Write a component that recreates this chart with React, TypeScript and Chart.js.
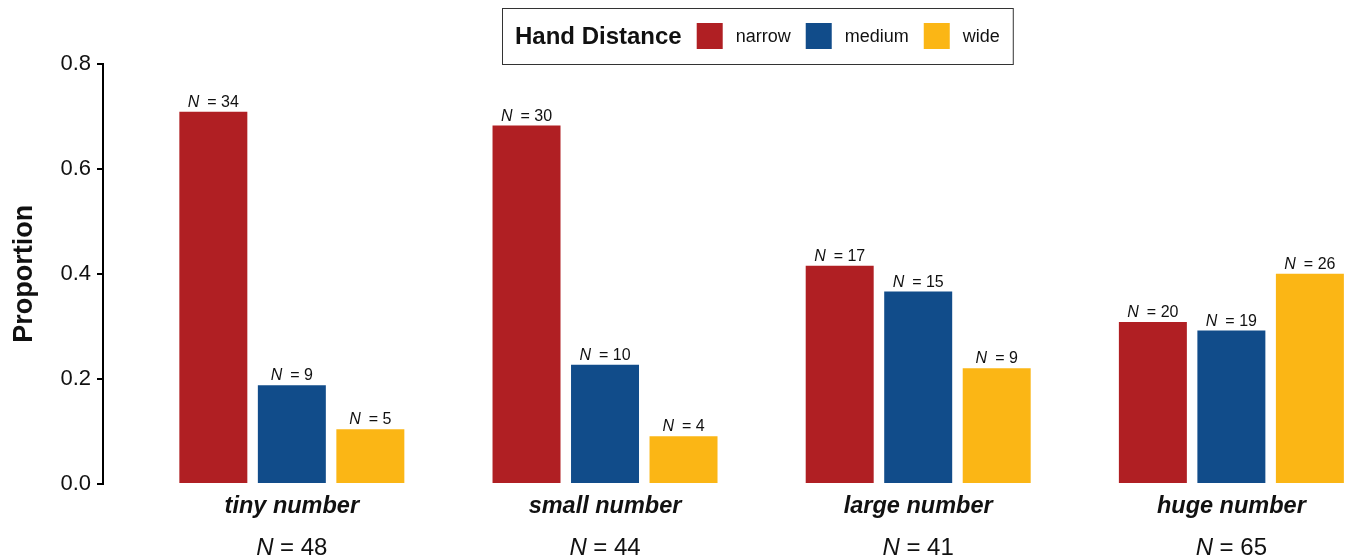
import React, { useEffect, useRef } from "react";
import { Chart, registerables } from "chart.js";

Chart.register(...registerables);

const categories = ["tiny number", "small number", "large number", "huge number"];
const groupTotals = [48, 44, 41, 65];
const seriesNames = ["narrow", "medium", "wide"];
const narrowCounts = [34, 30, 17, 20];
const mediumCounts = [9, 10, 15, 19];
const wideCounts = [5, 4, 9, 26];
const narrowProp = [0.708, 0.682, 0.415, 0.308];
const mediumProp = [0.188, 0.227, 0.366, 0.292];
const wideProp = [0.104, 0.091, 0.22, 0.4];
const yTickValues = [0, 0.2, 0.4, 0.6, 0.8];
const colors = ["#B01F23", "#114C8A", "#FBB615"];
const legendTitle = "Hand Distance";
const yTitle = "Proportion";

const FONT = '"Liberation Sans", Arial, Helvetica, sans-serif';
const TEXT = "#111111";

function drawNText(ctx: CanvasRenderingContext2D, cx: number, baseline: number, size: number, rest: string, gapN: number) {
  ctx.font = `italic ${size}px ${FONT}`;
  const wN = ctx.measureText("N").width;
  ctx.font = `${size}px ${FONT}`;
  const wR = ctx.measureText(rest).width;
  const total = wN + gapN + wR;
  let x = cx - total / 2;
  ctx.textAlign = "left";
  ctx.textBaseline = "alphabetic";
  ctx.fillStyle = TEXT;
  ctx.font = `italic ${size}px ${FONT}`;
  ctx.fillText("N", x, baseline);
  x += wN + gapN;
  ctx.font = `${size}px ${FONT}`;
  ctx.fillText(rest, x, baseline);
}

const countsBySeries = [narrowCounts, mediumCounts, wideCounts];

const annotatePlugin = {
  id: "annotate",
  afterDatasetsDraw(chart: any) {
    const ctx: CanvasRenderingContext2D = chart.ctx;
    ctx.save();
    // bar labels
    chart.data.datasets.forEach((ds: any, di: number) => {
      const meta = chart.getDatasetMeta(di);
      meta.data.forEach((el: any, i: number) => {
        drawNText(ctx, el.x, el.y - 5, 16, "= " + countsBySeries[di][i], 8);
      });
    });
    // category labels
    const xs = chart.scales.x;
    const bottom = chart.chartArea.bottom;
    categories.forEach((c, i) => {
      const cx = xs.getPixelForValue(i);
      ctx.font = `italic bold 23.5px ${FONT}`;
      ctx.fillStyle = TEXT;
      ctx.textAlign = "center";
      ctx.textBaseline = "alphabetic";
      ctx.fillText(c, cx, bottom + 29);
      drawNText(ctx, cx, bottom + 71, 24, "= " + groupTotals[i], 6.5);
    });
    // legend
    const boxLeft = 502;
    const boxTop = 8;
    const boxH = 56;
    const midY = boxTop + boxH / 2;
    const pad = 13;
    const sq = 26;
    let x = boxLeft + pad;
    ctx.font = `bold 24px ${FONT}`;
    const tW = ctx.measureText(legendTitle).width;
    const items: { w: number }[] = [];
    ctx.font = `18px ${FONT}`;
    chart.data.datasets.forEach((ds: any) => items.push({ w: ctx.measureText(ds.label).width }));
    let total = pad + tW;
    items.forEach((it) => (total += 15 + sq + 13 + it.w));
    total += pad;
    ctx.fillStyle = "#ffffff";
    ctx.fillRect(boxLeft, boxTop, total, boxH);
    ctx.strokeStyle = "#333333";
    ctx.lineWidth = 1;
    ctx.strokeRect(boxLeft + 0.5, boxTop + 0.5, total, boxH);
    ctx.fillStyle = TEXT;
    ctx.textAlign = "left";
    ctx.textBaseline = "middle";
    ctx.font = `bold 24px ${FONT}`;
    ctx.fillText(legendTitle, x, midY + 1);
    x += tW;
    chart.data.datasets.forEach((ds: any, i: number) => {
      x += 15;
      ctx.fillStyle = ds.backgroundColor;
      ctx.fillRect(x, midY - sq / 2, sq, sq);
      x += sq + 13;
      ctx.fillStyle = TEXT;
      ctx.font = `18px ${FONT}`;
      ctx.fillText(ds.label, x, midY + 1);
      x += items[i].w;
    });
    ctx.restore();
  },
};

export default function App() {
  const ref = useRef<HTMLCanvasElement>(null);
  useEffect(() => {
    if (!ref.current) return;
    const propsBySeries = [narrowProp, mediumProp, wideProp];
    const chart = new Chart(ref.current, {
      type: "bar",
      data: {
        datasets: seriesNames.map((name, si) => ({
          label: name,
          data: propsBySeries[si].map((v, i) => ({ x: i, y: v })),
          backgroundColor: colors[si],
          borderWidth: 0,
          categoryPercentage: 0.752,
          barPercentage: 0.866,
        })),
      },
      options: {
        animation: false,
        responsive: true,
        maintainAspectRatio: false,
        layout: { padding: { top: 63.5, bottom: 75, left: 0, right: 0 } },
        plugins: { legend: { display: false }, tooltip: { enabled: false } },
        scales: {
          x: {
            type: "linear",
            display: false,
            offset: false,
            grid: { offset: false },
            min: -0.603,
            max: 3.366,
            afterBuildTicks: (s: any) => {
              s.ticks = categories.map((_, i) => ({ value: i }));
            },
          },
          y: {
            min: 0,
            max: 0.8,
            afterFit: (s: any) => {
              s.width = 103;
            },
            afterBuildTicks: (s: any) => {
              s.ticks = yTickValues.map((v) => ({ value: v }));
            },
            ticks: {
              padding: 6,
              color: TEXT,
              font: { family: FONT, size: 22 },
              callback: (v: any) => Number(v).toFixed(1),
            },
            grid: {
              display: true,
              drawOnChartArea: false,
              drawTicks: true,
              tickLength: 6,
              color: "#000000",
              lineWidth: 2,
            },
            border: { display: true, color: "#000000", width: 2 },
            title: {
              display: true,
              text: yTitle,
              color: TEXT,
              font: { family: FONT, size: 27, weight: "bold" },
              padding: { top: 8, bottom: 0 },
            },
          },
        },
      },
      plugins: [annotatePlugin],
    } as any);
    return () => chart.destroy();
  }, []);
  return (
    <div style={{ position: "absolute", left: 0, top: 0, width: 1346, height: 559, background: "#fff" }}>
      <canvas ref={ref} />
    </div>
  );
}
